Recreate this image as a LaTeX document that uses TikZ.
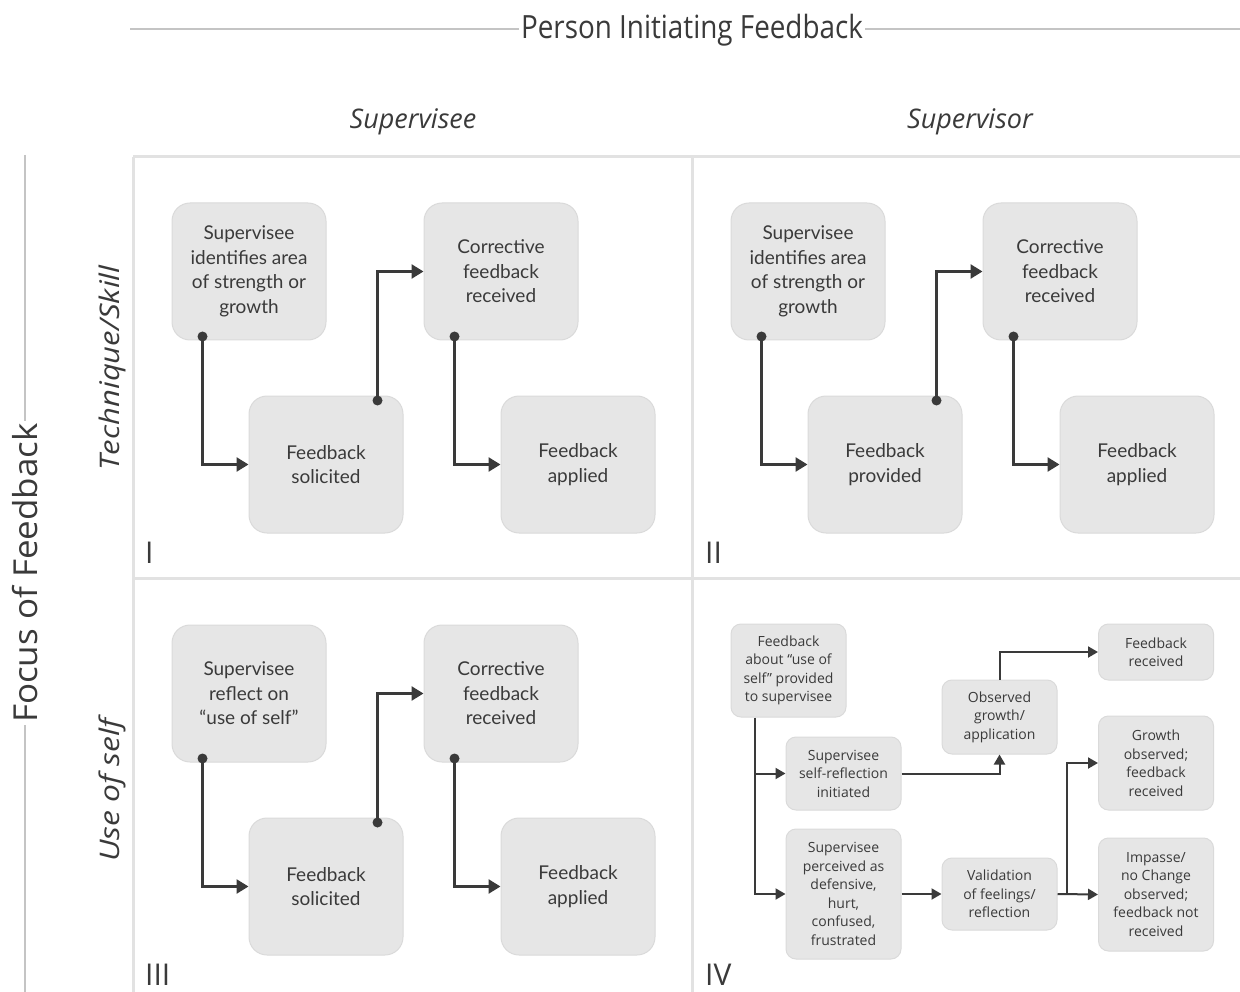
\documentclass[tikz,border=0pt]{standalone}
\usepackage{fontspec}
\setmainfont{Open Sans}
\newfontfamily\latofont{Lato}
\usetikzlibrary{arrows.meta,calc}

\definecolor{ink}{HTML}{3A3A3A}
\definecolor{boxfill}{HTML}{E6E6E6}
\definecolor{boxedge}{HTML}{DADADA}
\definecolor{gridline}{HTML}{E2E2E2}
\definecolor{rulegray}{HTML}{C4C4C4}

\tikzset{
  bigbox/.style={fill=boxfill, draw=boxedge, line width=1, rounded corners=18,
    minimum width=154, minimum height=137, align=center, text=ink, inner sep=0,
    font=\latofont\fontsize{19}{24.5}\selectfont},
  smallbox/.style={fill=boxfill, draw=boxedge, line width=1, rounded corners=10,
    minimum width=115, align=center, text=ink, inner sep=0,
    font=\fontsize{14}{18.5}\selectfont},
  flow/.style={draw=ink, line width=2.6, -{Triangle[length=12,width=14]}},
  flowiv/.style={draw=ink, line width=2, -{Triangle[length=10,width=11]}},
  startdot/.style={fill=ink},
  grid/.style={draw=gridline, line width=3},
  axisrule/.style={draw=rulegray, line width=1.4},
  axistitle/.style={fill=white, text=ink, inner sep=2},
  coltitle/.style={text=ink, inner sep=0, font=\itshape\fontsize{27}{32}\selectfont},
  quadlabel/.style={text=ink, inner sep=0, anchor=west, font=\fontsize{30}{34}\selectfont},
}

% one four-box flow with dotted starts; #1 prefix, #2/#3 shift, #4..#7 texts
\newcommand\flowquad[7]{%
  \begin{scope}[shift={(#2,#3)}]
    \node[bigbox] (#1a) at (249,271.5) {#4};
    \node[bigbox] (#1b) at (326,464.5) {#5};
    \node[bigbox] (#1c) at (501,271.5) {#6};
    \node[bigbox] (#1d) at (578,464.5) {#7};
  \end{scope}
  \coordinate (#1p1) at ($(#1a.south west)+(31,-4)$);
  \coordinate (#1p2) at ($(#1b.north west)+(129,5)$);
  \coordinate (#1p3) at ($(#1c.south west)+(31,-4)$);
  \draw[flow] (#1p1) |- (#1b.west);
  \draw[flow] (#1p2) |- (#1c.west);
  \draw[flow] (#1p3) |- (#1d.west);
  \fill[startdot] (#1p1) circle (5);
  \fill[startdot] (#1p2) circle (5);
  \fill[startdot] (#1p3) circle (5);
}

\begin{document}
\begin{tikzpicture}[x=1pt, y=-1pt]
  \useasboundingbox (0,0) rectangle (1240,992);

  % axes
  \draw[axisrule] (130,29) -- (1240,29);
  \node[axistitle, font=\fontsize{32}{36}\selectfont] (top) at (692,30)
    {\scalebox{0.87}[1]{Person Initiating Feedback}};
  \draw[axisrule] (25,155) -- (25,992);
  \node[axistitle, rotate=90, font=\fontsize{33}{38}\selectfont] (side) at (25,573)
    {\scalebox{1.06}[1]{Focus of Feedback}};

  \node[coltitle] (cola) at (413,122) {Supervisee};
  \node[coltitle] (colb) at (970,122) {Supervisor};
  \node[coltitle, rotate=90] (rowa) at (112,368) {\scalebox{1.15}[1]{Technique/Skill}};
  \node[coltitle, rotate=90] (rowb) at (112,790) {\scalebox{1.18}[1]{Use of self}};

  % quadrant grid
  \draw[grid] (133,157) -- (1240,157);
  \draw[grid] (133,157) -- (133,992);
  \draw[grid] (133,578) -- (1240,578);
  \draw[grid] (692,157) -- (692,992);

  \node[quadlabel] (q1) at (145,553) {I};
  \node[quadlabel] (q2) at (705,553) {II};
  \node[quadlabel] (q3) at (145,975) {III};
  \node[quadlabel] (q4) at (705,975) {IV};

  % quadrants I to III
  \flowquad{i}{0}{0}
    {Supervisee\\identifies area\\of strength or\\growth}
    {Feedback\\solicited}
    {Corrective\\feedback\\received}
    {Feedback\\applied}
  \flowquad{ii}{559}{0}
    {Supervisee\\identifies area\\of strength or\\growth}
    {Feedback\\provided}
    {Corrective\\feedback\\received}
    {Feedback\\applied}
  \flowquad{iii}{0}{422}
    {Supervisee\\reflect on\\“use of self”}
    {Feedback\\solicited}
    {Corrective\\feedback\\received}
    {Feedback\\applied}

  % quadrant IV
  \node[smallbox, minimum height=93] (f1) at (788.5,670.5)
    {Feedback\\about “use of\\self” provided\\to supervisee};
  \node[smallbox, minimum height=73] (f2) at (843.5,773.5)
    {Supervisee\\self-reflection\\initiated};
  \node[smallbox, minimum height=130] (f3) at (843.5,894)
    {Supervisee\\perceived as\\defensive,\\hurt,\\confused,\\frustrated};
  \node[smallbox, minimum height=74] (f4) at (999.5,717)
    {Observed\\growth/\\application};
  \node[smallbox, minimum height=72] (f5) at (999.5,894)
    {Validation\\of feelings/\\reflection};
  \node[smallbox, minimum height=56] (f6) at (1156,652)
    {Feedback\\received};
  \node[smallbox, minimum height=94] (f7) at (1156,763)
    {Growth\\observed;\\feedback\\received};
  \node[smallbox, minimum height=113] (f8) at (1156,894.5)
    {Impasse/\\no Change\\observed;\\feedback not\\received};

  \coordinate (f1s) at ($(f1.south west)+(24,0)$);
  \draw[flowiv] (f1s) |- (f3.west);
  \draw[flowiv] (f1s |- f2.west) -- (f2.west);
  \draw[flowiv] (f2.east) -| (f4.south);
  \draw[flowiv] (f4.north) |- (f6.west);
  \draw[flowiv] (f3.east) -- (f5.west);
  \draw[flowiv] (f5.east) -- (f8.west);
  \coordinate (split) at ($(f5.east)+(9,0)$);
  \draw[flowiv] (split) |- (f7.west);
\end{tikzpicture}
\end{document}
